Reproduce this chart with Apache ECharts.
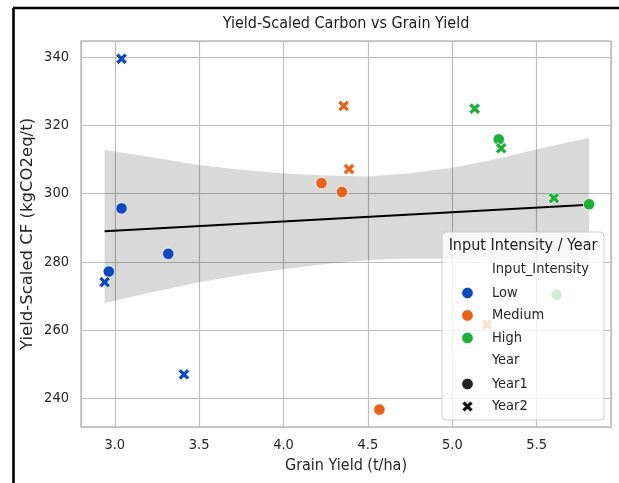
<!DOCTYPE html>
<html><head><meta charset="utf-8">
<script src="https://cdn.jsdelivr.net/npm/echarts@6/dist/echarts.min.js"></script>
<style>html,body{margin:0;padding:0;background:#fff}#c{width:619px;height:483px}</style>
</head><body><div id="c"></div>
<script>
// ---- data ----
const lowYear1X = [3.04, 2.965, 3.317];
const lowYear1Y = [295.7, 277.2, 282.4];
const lowYear2X = [3.04, 2.94, 3.41];
const lowYear2Y = [339.5, 274.1, 247.1];
const mediumYear1X = [4.225, 4.346, 4.568];
const mediumYear1Y = [303.1, 300.5, 236.8];
const mediumYear2X = [4.356, 4.388, 5.205];
const mediumYear2Y = [325.7, 307.2, 261.6];
const highYear1X = [5.275, 5.81, 5.618];
const highYear1Y = [315.9, 296.9, 270.4];
const highYear2X = [5.132, 5.289, 5.602];
const highYear2Y = [324.9, 313.3, 298.7];
// confidence band edges
const bandX = [2.94, 3.2, 3.5, 3.75, 4.0, 4.25, 4.5, 4.75, 5.0, 5.25, 5.5, 5.81];
const bandUpper = [312.8, 310.8, 308.4, 307.0, 305.9, 305.3, 305.0, 306.0, 307.6, 310.0, 313.0, 316.4];
const bandLower = [268.0, 270.9, 274.1, 276.2, 277.9, 279.4, 280.6, 281.0, 281.0, 280.5, 279.6, 277.6];
const intensityLabels = ['Low', 'Medium', 'High'];
const yearLabels = ['Year1', 'Year2'];

const FH = "'DejaVu Sans Condensed', 'DejaVu Sans', sans-serif";
const FV = "'DejaVu Sans', sans-serif";
const colors = {Low: '#0d4abf', Medium: '#e8621a', High: '#1cb03a'};
const xPath = 'path://M2.4,0 L5,2.6 L7.6,0 L10,2.4 L7.4,5 L10,7.6 L7.6,10 L5,7.4 L2.4,10 L0,7.6 L2.6,5 L0,2.4 Z';

function zip(xs, ys) { return xs.map((x, i) => [x, ys[i]]); }

// regression computed from all points
const allX = [].concat(lowYear1X, lowYear2X, mediumYear1X, mediumYear2X, highYear1X, highYear2X);
const allY = [].concat(lowYear1Y, lowYear2Y, mediumYear1Y, mediumYear2Y, highYear1Y, highYear2Y);
const n = allX.length;
const mx = allX.reduce((a, b) => a + b, 0) / n;
const my = allY.reduce((a, b) => a + b, 0) / n;
let sxx = 0, sxy = 0;
for (let i = 0; i < n; i++) { sxx += (allX[i] - mx) ** 2; sxy += (allX[i] - mx) * (allY[i] - my); }
const slope = sxy / sxx, icpt = my - slope * mx;
const xMin = Math.min(...allX), xMax = Math.max(...allX);
const fitLine = [[xMin, icpt + slope * xMin], [xMax, icpt + slope * xMax]];

function scatter(name, xs, ys, color, year) {
  return {
    type: 'scatter', name: name, z: 4,
    data: zip(xs, ys),
    symbol: year === 'Year1' ? 'circle' : xPath,
    symbolSize: 11.5,
    itemStyle: {color: color, borderColor: '#fff', borderWidth: 0.8, opacity: 1}
  };
}

const chart = echarts.init(document.getElementById('c'));
const legendRows = [];
const rowY = [37, 61, 83.5, 106, 128.5, 152, 174.5];
const legendItems = [
  {t: 'Input_Intensity'},
  {t: intensityLabels[0], c: colors.Low, s: 'circle'},
  {t: intensityLabels[1], c: colors.Medium, s: 'circle'},
  {t: intensityLabels[2], c: colors.High, s: 'circle'},
  {t: 'Year'},
  {t: yearLabels[0], c: '#222', s: 'circle'},
  {t: yearLabels[1], c: '#111', s: 'x'}
];
legendItems.forEach((it, i) => {
  legendRows.push({type: 'text', x: 50, y: rowY[i], z: 101,
    style: {text: it.t, font: '14.5px ' + FH, fill: '#262626', align: 'left', verticalAlign: 'middle', textAlign: 'left', textVerticalAlign: 'middle'}});
  if (it.s === 'circle') {
    legendRows.push({type: 'circle', z: 101, shape: {cx: 25.5, cy: rowY[i], r: 5.8}, style: {fill: it.c, stroke: '#fff', lineWidth: 0.8}});
  } else if (it.s === 'x') {
    const t = 2.4, s = 1.1, ox = 25.5 - 5.5, oy = rowY[i] - 5.5;
    const raw = [[t,0],[5,5-t],[10-t,0],[10,t],[5+t,5],[10,10-t],[10-t,10],[5,5+t],[t,10],[0,10-t],[5-t,5],[0,t]];
    legendRows.push({type: 'polygon', z: 101, shape: {points: raw.map(p => [ox + p[0]*s, oy + p[1]*s])}, style: {fill: it.c, stroke: '#fff', lineWidth: 0.8}});
  }
});

chart.setOption({
  animation: false,
  backgroundColor: '#fff',
  grid: {left: 81, top: 41, right: 8, bottom: 56, show: true, borderColor: '#bdbdbd', borderWidth: 1.5, backgroundColor: 'transparent'},
  xAxis: {
    type: 'value', min: 2.80, max: 5.94,
    name: 'Grain Yield (t/ha)', nameLocation: 'middle', nameGap: 31,
    nameTextStyle: {fontFamily: FH, fontSize: 16, color: '#262626'},
    axisLine: {show: false}, axisTick: {show: false},
    axisLabel: {showMinLabel: false, showMaxLabel: false, margin: 11, fontFamily: FH, fontSize: 14.5, color: '#262626', formatter: v => v.toFixed(1)},
    splitLine: {show: true, lineStyle: {color: '#bdbdbd', width: 1.2}}
  },
  yAxis: {
    type: 'value', min: 231.7, max: 344.7,
    name: 'Yield-Scaled CF (kgCO2eq/t)', nameLocation: 'middle', nameGap: 45, nameMoveOverlap: false,
    nameTextStyle: {fontFamily: FV, fontSize: 16.5, color: '#262626'},
    axisLine: {show: false}, axisTick: {show: false},
    axisLabel: {showMinLabel: false, showMaxLabel: false, margin: 12, fontFamily: FH, fontSize: 14.5, color: '#262626'},
    splitLine: {show: true, lineStyle: {color: '#bdbdbd', width: 1.2}}
  },
  series: [
    {
      type: 'custom', z: 1, silent: true, clip: true,
      data: [[bandX[0], bandUpper[0]]],
      renderItem: function (params, api) {
        const pts = [];
        for (let i = 0; i < bandX.length; i++) pts.push(api.coord([bandX[i], bandUpper[i]]));
        for (let i = bandX.length - 1; i >= 0; i--) pts.push(api.coord([bandX[i], bandLower[i]]));
        return {type: 'polygon', shape: {points: pts}, style: {fill: 'rgba(0,0,0,0.15)'}};
      }
    },
    {type: 'line', z: 3, data: fitLine, symbol: 'none', lineStyle: {color: '#000', width: 2}, silent: true},
    scatter('Low Year1', lowYear1X, lowYear1Y, colors.Low, 'Year1'),
    scatter('Low Year2', lowYear2X, lowYear2Y, colors.Low, 'Year2'),
    scatter('Medium Year1', mediumYear1X, mediumYear1Y, colors.Medium, 'Year1'),
    scatter('Medium Year2', mediumYear2X, mediumYear2Y, colors.Medium, 'Year2'),
    scatter('High Year1', highYear1X, highYear1Y, colors.High, 'Year1'),
    scatter('High Year2', highYear2X, highYear2Y, colors.High, 'Year2')
  ],
  graphic: [
    {type: 'line', z: 100, shape: {x1: 13, y1: 8, x2: 619, y2: 8}, style: {stroke: '#000', lineWidth: 2.6}},
    {type: 'line', z: 100, shape: {x1: 13.5, y1: 8, x2: 13.5, y2: 483}, style: {stroke: '#000', lineWidth: 2.6}},
    {type: 'text', z: 100, x: 346, y: 24,
      style: {text: 'Yield-Scaled Carbon vs Grain Yield', font: '16px ' + FH, fill: '#1a1a1a', align: 'center', verticalAlign: 'middle', textAlign: 'center', textVerticalAlign: 'middle'}},
    {type: 'group', x: 442, y: 232, z: 100, children: [
      {type: 'rect', z: 100, shape: {x: 0, y: 0, width: 162, height: 188, r: 4}, style: {fill: 'rgba(255,255,255,0.8)', stroke: '#cccccc', lineWidth: 1}},
      {type: 'text', z: 101, x: 81, y: 13.5,
        style: {text: 'Input Intensity / Year', font: '16px ' + FH, fill: '#1a1a1a', align: 'center', verticalAlign: 'middle', textAlign: 'center', textVerticalAlign: 'middle'}}
    ].concat(legendRows)}
  ]
});
</script></body></html>
